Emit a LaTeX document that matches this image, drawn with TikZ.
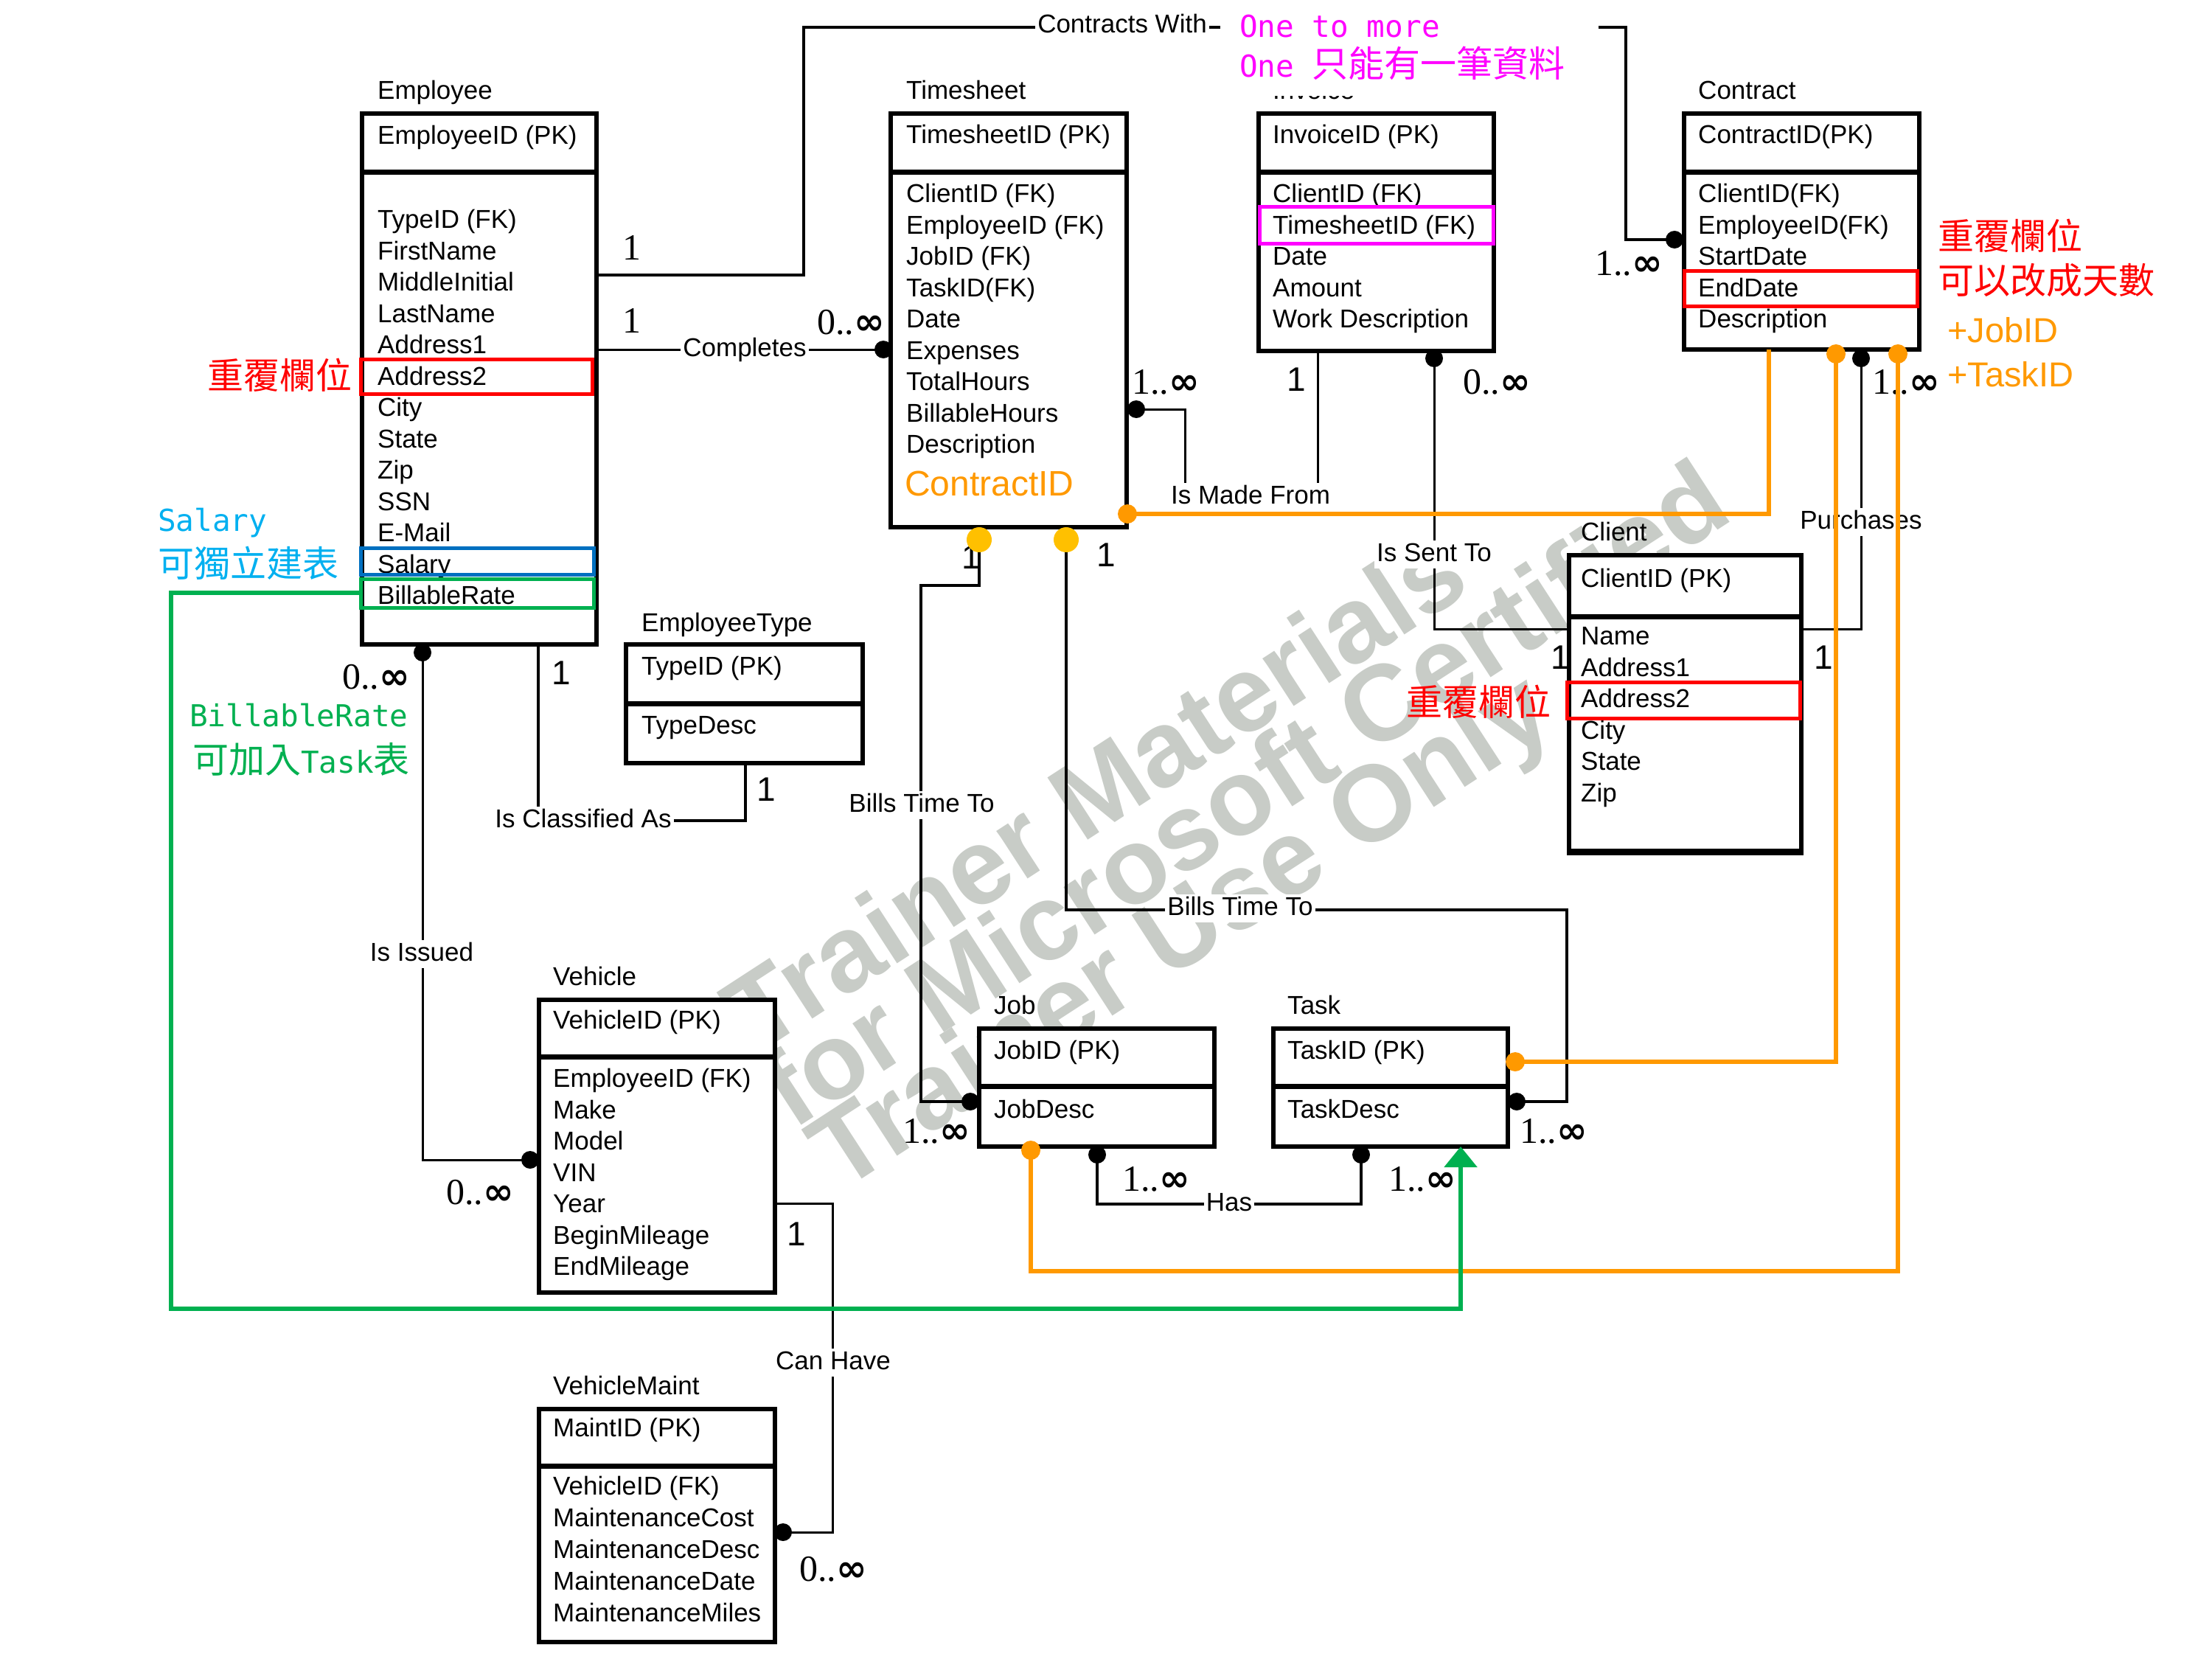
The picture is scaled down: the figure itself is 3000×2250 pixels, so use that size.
\documentclass[tikz,border=0pt]{standalone}
\usepackage{fontspec}
\setmainfont{Liberation Sans}
\newfontfamily\serf{Liberation Serif}
\newfontfamily\monof{DejaVu Sans Mono}
\newfontfamily\cjkf{Noto Sans CJK TC}
\newfontfamily\djb{DejaVu Sans}
\usetikzlibrary{arrows.meta}
\definecolor{orC}{HTML}{FF9900}
\definecolor{yeC}{HTML}{FFC000}
\definecolor{grC}{HTML}{00B050}
\definecolor{blC}{HTML}{0070C0}
\definecolor{cyC}{HTML}{00B0F0}
\definecolor{maC}{HTML}{FF00FF}
\definecolor{reC}{HTML}{FF0000}
\definecolor{wmC}{RGB}{200,204,199}
\newcommand\fsz[1]{\fontsize{#1}{#1}\selectfont}
\newcommand\infy{{\djb\bfseries\fsz{50}∞}}
\newcommand\flist[5]{\foreach \t [count=\i] in {#5} {\node[fld] (#1f\i) at (#2,{#3+(\i-1)*#4}) {\t};}}
\tikzset{
  ent/.style={draw, line width=5.5pt, fill=white, rectangle, inner sep=0pt, outer sep=0pt, anchor=north west},
  sepl/.style={line width=7pt},
  fld/.style={anchor=west, inner sep=0pt, text height=25pt, text depth=0pt, font=\fsz{35}},
  rel/.style={fill=white, inner sep=3pt, text height=25pt, text depth=7pt, font=\fsz{35}},
  cn/.style={line width=4.5pt, line join=miter},
  tn/.style={line width=3pt, line join=miter},
  md/.style={circle, fill=black, inner sep=0pt, minimum size=24pt},
  od/.style={circle, fill=orC, inner sep=0pt, minimum size=26pt},
  yd/.style={circle, fill=yeC, inner sep=0pt, minimum size=34pt},
  ml/.style={anchor=west, inner sep=0pt, text height=34pt, text depth=0pt, font=\serf\fsz{50}},
  onel/.style={anchor=west, inner sep=0pt, text height=33pt, text depth=0pt, font=\fsz{46}},
  cjk/.style={anchor=west, inner sep=0pt, text height=37pt, text depth=0pt, font=\cjkf\fsz{49}},
  mono/.style={anchor=west, inner sep=0pt, text height=30pt, text depth=0pt, font=\monof\fsz{41}},
  hl/.style={draw, line width=5pt},
  ol/.style={line width=6pt, orC, line join=miter},
  gl/.style={line width=5.5pt, grC, line join=miter},
  wm/.style={anchor=base west, inner sep=0pt, rotate=33, text=wmC, font=\bfseries\fsz{146}}
}
\begin{document}
\begin{tikzpicture}[x=1pt,y=-1pt]
\useasboundingbox (0,0) rectangle (3000,2250);
\fill[white] (0,0) rectangle (3000,2250);
% watermark
\node[wm] (w1) at (1025,1432) {Trainer Materials};
\node[wm] (w2) at (1075,1534) {for Microsoft Certified};
\node[wm] (w3) at (1140,1618) {Trainer Use Only};

% entity boxes
\node[ent, minimum width=318pt, minimum height=720pt] (emp) at (491,154) {};
\node[ent, minimum width=320pt, minimum height=561pt] (ts) at (1208,154) {};
\node[ent, minimum width=319pt, minimum height=322pt] (inv) at (1707,154) {};
\node[ent, minimum width=319pt, minimum height=320pt] (con) at (2284,154) {};
\node[ent, minimum width=315pt, minimum height=402pt] (cli) at (2128,753) {};
\node[ent, minimum width=321pt, minimum height=161pt] (et) at (849,874) {};
\node[ent, minimum width=320pt, minimum height=397pt] (veh) at (731,1356) {};
\node[ent, minimum width=320pt, minimum height=316pt] (vm) at (731,1911) {};
\node[ent, minimum width=319pt, minimum height=160pt] (job) at (1328,1395) {};
\node[ent, minimum width=318pt, minimum height=160pt] (task) at (1727,1395) {};
% separators
\draw[sepl] (491,234) -- (809,234);
\draw[sepl] (1208,234) -- (1528,234);
\draw[sepl] (1707,234) -- (2026,234);
\draw[sepl] (2284,234) -- (2603,234);
\draw[sepl] (2128,836) -- (2443,836);
\draw[sepl] (849,954) -- (1170,954);
\draw[sepl] (731,1433) -- (1051,1433);
\draw[sepl] (731,1988) -- (1051,1988);
\draw[sepl] (1328,1473) -- (1647,1473);
\draw[sepl] (1727,1473) -- (2045,1473);
\draw[line width=9pt] (2125.25,1155) -- (2445.75,1155);

% titles
\node[fld] (tEmp) at (512,122) {Employee};
\node[fld] (tTs) at (1229,122) {Timesheet};
\node[fld] (tInv) at (1726,122) {Invoice};
\node[fld] (tCon) at (2303,122) {Contract};
\node[fld] (tCli) at (2144,721) {Client};
\node[fld] (tEt) at (870,844) {EmployeeType};
\node[fld] (tVeh) at (750,1324) {Vehicle};
\node[fld] (tVm) at (750,1879) {VehicleMaint};
\node[fld] (tJob) at (1348,1363) {Job};
\node[fld] (tTask) at (1746,1363) {Task};
% primary keys
\node[fld] (pEmp) at (512,183) {EmployeeID (PK)};
\node[fld] (pTs) at (1229,182) {TimesheetID (PK)};
\node[fld] (pInv) at (1726,182) {InvoiceID (PK)};
\node[fld] (pCon) at (2303,182) {ContractID(PK)};
\node[fld] (pCli) at (2144,784) {ClientID (PK)};
\node[fld] (pEt) at (870,903) {TypeID (PK)};
\node[fld] (pVeh) at (750,1383) {VehicleID (PK)};
\node[fld] (pVm) at (750,1936) {MaintID (PK)};
\node[fld] (pJob) at (1348,1424) {JobID (PK)};
\node[fld] (pTask) at (1746,1424) {TaskID (PK)};
% fields
\flist{emp}{512}{297}{42.5}{TypeID (FK),FirstName,MiddleInitial,LastName,Address1,Address2,City,State,Zip,SSN,E-Mail,Salary,BillableRate}
\flist{ts}{1229}{262}{42.5}{ClientID (FK),EmployeeID (FK),JobID (FK),TaskID(FK),Date,Expenses,TotalHours,BillableHours,Description}
\node[anchor=west, inner sep=0pt, text height=34pt, text depth=0pt, font=\fsz{48}, text=orC] (tsCid) at (1227,655) {ContractID};
\flist{inv}{1726}{262}{42.5}{ClientID (FK),TimesheetID (FK),Date,Amount,Work Description}
\flist{con}{2303}{262}{42.5}{ClientID(FK),EmployeeID(FK),StartDate,EndDate,Description}
\flist{cli}{2144}{862}{42.6}{Name,Address1,Address2,City,State,Zip}
\node[fld] (etf1) at (870,983) {TypeDesc};
\flist{veh}{750}{1462}{42.5}{EmployeeID (FK),Make,Model,VIN,Year,BeginMileage,EndMileage}
\flist{vm}{750}{2015}{43}{VehicleID (FK),MaintenanceCost,MaintenanceDesc,MaintenanceDate,MaintenanceMiles}
\node[fld] (jobf1) at (1348,1504) {JobDesc};
\node[fld] (taskf1) at (1746,1504) {TaskDesc};

% highlight boxes
\draw[hl, reC] (489,487) rectangle (803,534);
\draw[hl, blC] (489,743) rectangle (805,779);
\draw[hl, grC] (489,785) rectangle (805,824);
\draw[hl, maC] (1708,281) rectangle (2025,330);
\draw[hl, reC] (2284,367) rectangle (2600,415);
\draw[hl, reC] (2125,925) rectangle (2441,974);

% connector end coordinates
\coordinate (cwA) at (809,373);
\coordinate (y1c) at (1328,732);
\coordinate (y2c) at (1446,732);
\coordinate (icA) at (730,874);
\coordinate (icB) at (1011,1035);
\coordinate (chA) at (1051,1632);
\coordinate (mfB) at (1787,476);

% black many-dots
\node[md] (dCW) at (2271,325) {};
\node[md] (dCo) at (1198,474) {};
\node[md] (dMF) at (1541,555) {};
\node[md] (dST) at (1945,486) {};
\node[md] (dPu) at (2524,486) {};
\node[md] (dII1) at (573,885) {};
\node[md] (dII2) at (719,1573) {};
\node[md] (dCH) at (1062,2078) {};
\node[md] (dB1) at (1316,1494) {};
\node[md] (dB2) at (2057,1494) {};
\node[md] (dH1) at (1488,1566) {};
\node[md] (dH2) at (1846,1566) {};

% connectors
\draw[cn] (cwA) -- (1090,373) -- (1090,37) -- (2205,37) |- (dCW.center);
\draw[tn] (emp.east |- dCo) -- (dCo.center);
\draw[tn] (dMF.center) -- (1607,555) -- (1607,674) -- (1787,674) -- (mfB);
\draw[tn] (dST.center) |- (cli.west |- 0,853);
\draw[tn] (dPu.center) |- (cli.east |- 0,853);
\draw[cn] (icA) -- (730,1113) -| (icB);
\draw[tn] (dII1.center) |- (dII2.center);
\draw[tn] (chA) -- (1129,1632) |- (dCH.center);
\draw[cn] (y1c) -- (1328,794) -- (1249,794) |- (dB1.center);
\draw[cn] (y2c) -- (1446,1234) -- (2125,1234) |- (dB2.center);
\draw[cn] (dH1.center) -- (1488,1633) -| (dH2.center);

% relationship labels
\node[rel] (lCW) at (1522,36) {Contracts With};
\node[rel] (lCo) at (1010,474) {Completes};
\node[rel] (lMF) at (1696,674) {Is Made From};
\node[rel] (lST) at (1945,752) {Is Sent To};
\node[rel] (lPu) at (2524,708) {Purchases};
\node[rel] (lIC) at (791,1113) {Is Classified As};
\node[rel] (lII) at (572,1294) {Is Issued};
\node[rel] (lCH) at (1130,1848) {Can Have};
\node[rel] (lB1) at (1250,1092) {Bills Time To};
\node[rel] (lB2) at (1682,1232) {Bills Time To};
\node[rel] (lH) at (1667,1633) {Has};

% multiplicities
\node[ml] (m1) at (844,335) {1};
\node[ml] (m2) at (844,434) {1};
\node[ml] (m3) at (1108,436) {0..\infy};
\node[ml] (m4) at (2163,356) {1..\infy};
\node[ml] (m5) at (1535,517) {1..\infy};
\node[ml] (m6) at (1984,517) {0..\infy};
\node[ml] (m7) at (2539,517) {1..\infy};
\node[ml] (m8) at (464,917) {0..\infy};
\node[ml] (m9) at (605,1616) {0..\infy};
\node[ml] (m10) at (1084,2127) {0..\infy};
\node[ml] (m11) at (1224,1533) {1..\infy};
\node[ml] (m12) at (1522,1598) {1..\infy};
\node[ml] (m13) at (1883,1598) {1..\infy};
\node[ml] (m14) at (2061,1533) {1..\infy};
\node[onel] (n1) at (1745,514) {1};
\node[onel] (n2) at (748,912) {1};
\node[onel] (n3) at (1026,1070) {1};
\node[onel] (n4) at (1067,1673) {1};
\node[onel] (n5) at (1304,755) {1};
\node[onel] (n6) at (1487,752) {1};
\node[onel] (n7) at (2103,891) {1};
\node[onel] (n8) at (2460,891) {1};

% yellow dots
\node[yd] (y1) at (y1c) {};
\node[yd] (y2) at (y2c) {};

% orange lines and dots
\coordinate (o1c) at (1529,697);
\coordinate (o2c) at (2490,480);
\coordinate (o3c) at (2055,1440);
\coordinate (o4c) at (2574,480);
\coordinate (o5c) at (1398,1560);
\draw[ol] (con.south west -| 2399,0) -- (2399,697) -- (o1c);
\draw[ol] (o2c) |- (o3c);
\draw[ol] (o4c) -- (2574,1724) -| (o5c);
\node[od] (o1) at (o1c) {};
\node[od] (o2) at (o2c) {};
\node[od] (o3) at (o3c) {};
\node[od] (o4) at (o4c) {};
\node[od] (o5) at (o5c) {};

% green line
\draw[gl, -{Triangle[width=44pt,length=28pt]}] (489,804) -- (232,804) -- (232,1775) -- (1981,1775) -- (task.south -| 1981,0);

% annotations
\node[cjk, text=reC] (aR1) at (281,509) {重覆欄位};
\node[mono, text=cyC] (aS1) at (214,705) {Salary};
\node[cjk, text=cyC] (aS2) at (214,764) {可獨立建表};
\node[mono, text=grC] (aB1) at (257,970) {BillableRate};
\node[cjk, text=grC] (aB2) at (261,1030) {可加入{\monof\fsz{41}Task}表};
\node[cjk, text=reC] (aR2) at (1907,952) {重覆欄位};
\node[cjk, text=reC] (aR3) at (2628,320) {重覆欄位};
\node[cjk, text=reC] (aR4) at (2628,380) {可以改成天數};
\node[anchor=west, inner sep=0pt, text height=34pt, text depth=0pt, font=\fsz{47}, text=orC] (aJ) at (2641,447) {+JobID};
\node[anchor=west, inner sep=0pt, text height=34pt, text depth=0pt, font=\fsz{47}, text=orC] (aT) at (2641,507) {+TaskID};
\fill[white] (1655,2) rectangle (2168,130);
\node[mono, text=maC] (aM1) at (1681,36) {One to more};
\node[cjk, text=maC] (aM2) at (1681,86) {{\monof\fsz{41}One }只能有一筆資料};
\end{tikzpicture}
\end{document}
